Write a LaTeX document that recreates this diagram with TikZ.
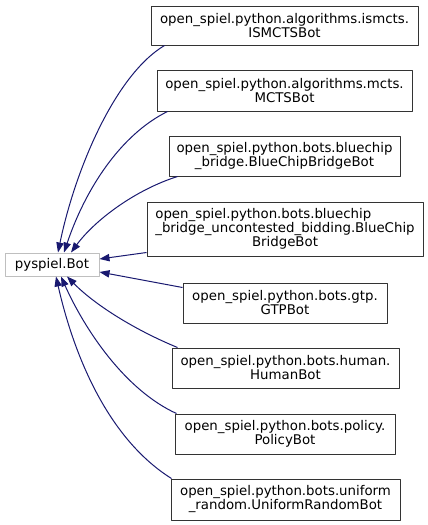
\documentclass[tikz,border=0pt]{standalone}
\usepackage{fontspec}
\setmainfont{DejaVu Sans}
\usetikzlibrary{arrows.meta,calc}
\definecolor{edgeblue}{HTML}{191970}
\definecolor{basegray}{HTML}{BFBFBF}
\begin{document}
\begin{tikzpicture}[x=0.75pt, y=-0.75pt, font=\fontsize{10}{10.5}\selectfont, line join=round, >={Triangle[length=7.5pt,width=5.5pt]}]
			\tikzset{cls/.style={draw=black!80, line width=0.75pt, inner sep=0pt, align=center, fill=white},
				base/.style={cls, draw=basegray},
				edge/.style={<-, draw=edgeblue, line width=0.75pt}}
			\def \px{0.75pt}
			\useasboundingbox (0,0) rectangle (428,525);
			
			\node[base, minimum width=94*\px, minimum height=23*\px] (bot) at (52,264.5) {pyspiel.Bot};
			\node[cls, minimum width=267*\px, minimum height=39*\px] (ism) at (284.5,25.5) {open\_spiel.python.algorithms.ismcts.\\ISMCTSBot};
			\node[cls, minimum width=255*\px, minimum height=41*\px] (mcts) at (284.5,90.5) {open\_spiel.python.algorithms.mcts.\\MCTSBot};
			\node[cls, minimum width=231*\px, minimum height=40*\px] (bcb) at (284.5,156) {open\_spiel.python.bots.bluechip\\\_bridge.BlueChipBridgeBot};
			\node[cls, minimum width=276*\px, minimum height=54*\px] (bcu) at (285,229) {\rlap{open\_spiel.python.bots.bluechip}\phantom{\_bridge\_uncontested\_bidding.BlueChip}\\\_bridge\_uncontested\_bidding.BlueChip\\BridgeBot};
			\node[cls, minimum width=204*\px, minimum height=40*\px] (gtp) at (285,303) {open\_spiel.python.bots.gtp.\\GTPBot};
			\node[cls, minimum width=227*\px, minimum height=40*\px] (hum) at (285.5,368) {open\_spiel.python.bots.human.\\HumanBot};
			\node[cls, minimum width=220*\px, minimum height=40*\px] (pol) at (285,434) {open\_spiel.python.bots.policy.\\PolicyBot};
			\node[cls, minimum width=229*\px, minimum height=41*\px] (uni) at (285.5,499.5) {open\_spiel.python.bots.uniform\\\_random.UniformRandomBot};
			
			% inheritance edges, tips on pyspiel.Bot
			\draw[edge] ($(bot.north)+(6,0)$) .. controls (75,170) and (115,75) .. ($(ism.south west)+(14,0)$);
			\draw[edge] ($(bot.north)+(12,0)$) .. controls (85,190) and (120,135) .. ($(mcts.south west)+(11,0)$);
			\draw[edge] ($(bot.north)+(19,0)$) .. controls (95,220) and (135,190) .. ($(bcb.south west)+(9,0)$);
			\draw[edge] ($(bot.east)+(0,-5.5)$) -- ($(bcu.south west)+(0,-4)$);
			\draw[edge] ($(bot.east)+(0,7.5)$) -- ($(gtp.north west)+(0,5)$);
			\draw[edge] ($(bot.south)+(15,0)$) .. controls (95,305) and (135,330) .. ($(hum.north west)+(6,0)$);
			\draw[edge] ($(bot.south)+(9,0)$) .. controls (85,330) and (125,390) .. ($(pol.north west)+(2,0)$);
			\draw[edge] ($(bot.south)+(4,0)$) .. controls (75,360) and (110,440) .. ($(uni.north west)+(1,0)$);
		\end{tikzpicture}
\end{document}
